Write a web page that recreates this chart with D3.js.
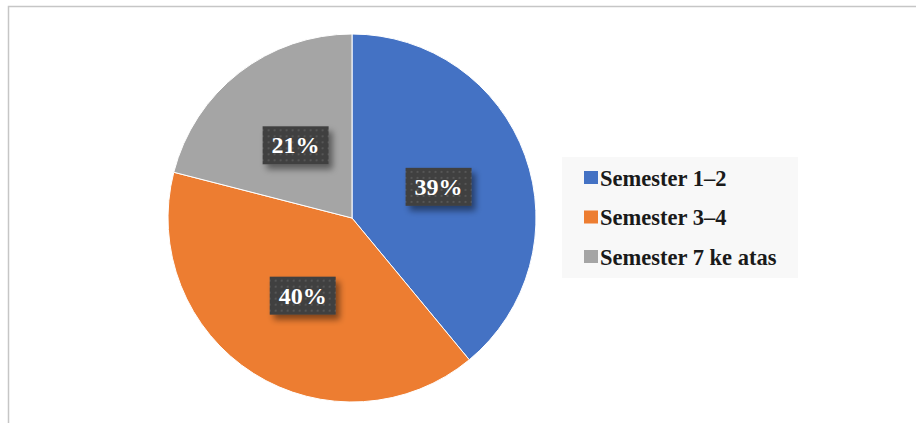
<!DOCTYPE html>
<html>
<head>
<meta charset="utf-8">
<script src="https://cdn.jsdelivr.net/npm/d3@7.9.0/dist/d3.min.js"></script>
<style>
  body { margin: 0; background: #fff; }
  svg { display: block; font-family: "Liberation Serif", "Times New Roman", serif; }
</style>
</head>
<body>
<svg width="916" height="423"></svg>
<script>
// data
const labels = ['Semester 1–2', 'Semester 3–4', 'Semester 7 ke atas'];
const values = [39, 40, 21];
const colors = ['#4472C4', '#ED7D31', '#A5A5A5'];

const svg = d3.select('svg');
const cx = 352, cy = 218, radius = 184;

// chart frame (only top/left edges visible)
svg.append('rect')
  .attr('x', 8.5).attr('y', 6.5)
  .attr('width', 1000).attr('height', 1000)
  .attr('fill', 'none')
  .attr('stroke', '#c6c6c6')
  .attr('stroke-width', 1.5);

const defs = svg.append('defs');

// dotted dark fill for the data labels
const pat = defs.append('pattern')
  .attr('id', 'dots')
  .attr('patternUnits', 'userSpaceOnUse')
  .attr('width', 6).attr('height', 6);
pat.append('rect').attr('width', 6).attr('height', 6).attr('fill', '#3f3f3f');
pat.append('rect').attr('x', 2).attr('y', 2).attr('width', 2).attr('height', 2).attr('fill', '#575757');

const shadow = defs.append('filter')
  .attr('id', 'shadow')
  .attr('x', '-30%').attr('y', '-30%')
  .attr('width', '160%').attr('height', '180%');
shadow.append('feDropShadow')
  .attr('dx', 4).attr('dy', 5)
  .attr('stdDeviation', 3)
  .attr('flood-color', '#000')
  .attr('flood-opacity', 0.45);

let data = labels.map((label, i) => ({ label, value: values[i], color: colors[i] }));

let sliceGenerator = d3.pie().value((d) => d.value).sort(null);
let arcData = sliceGenerator(data);
let arcGenerator = d3.arc().innerRadius(0).outerRadius(radius);

const pie = svg.append('g').attr('transform', `translate(${cx},${cy})`);

pie.selectAll('path')
  .data(arcData)
  .join('path')
  .attr('d', arcGenerator)
  .attr('fill', (d) => d.data.color)
  .attr('stroke', '#fff')
  .attr('stroke-width', 1);

// data labels at the slice centroids
const total = d3.sum(values);
const lab = pie.selectAll('g.lab')
  .data(arcData)
  .join('g')
  .attr('class', 'lab')
  .attr('transform', (d) => `translate(${arcGenerator.centroid(d)})`);

lab.append('rect')
  .attr('x', -33).attr('y', -19)
  .attr('width', 66).attr('height', 38)
  .attr('fill', 'url(#dots)')
  .attr('filter', 'url(#shadow)');

lab.append('text')
  .attr('text-anchor', 'middle')
  .attr('y', 8)
  .attr('fill', '#fff')
  .attr('font-size', 24)
  .attr('font-weight', 'bold')
  .text((d) => `${Math.round(d.data.value / total * 100)}%`);

// legend
const legend = svg.append('g');
legend.append('rect')
  .attr('x', 562).attr('y', 157)
  .attr('width', 236).attr('height', 121)
  .attr('fill', '#f8f8f8');

const item = legend.selectAll('g.item')
  .data(data)
  .join('g')
  .attr('class', 'item')
  .attr('transform', (d, i) => `translate(584, ${178 + i * 39.5})`);

item.append('rect')
  .attr('x', 0).attr('y', -7)
  .attr('width', 14).attr('height', 13)
  .attr('fill', (d) => d.color);

item.append('text')
  .attr('x', 16).attr('y', 7.5)
  .attr('font-size', 22.5)
  .attr('font-weight', 'bold')
  .attr('fill', '#1a1a1a')
  .text((d) => d.label);
</script>
</body>
</html>
